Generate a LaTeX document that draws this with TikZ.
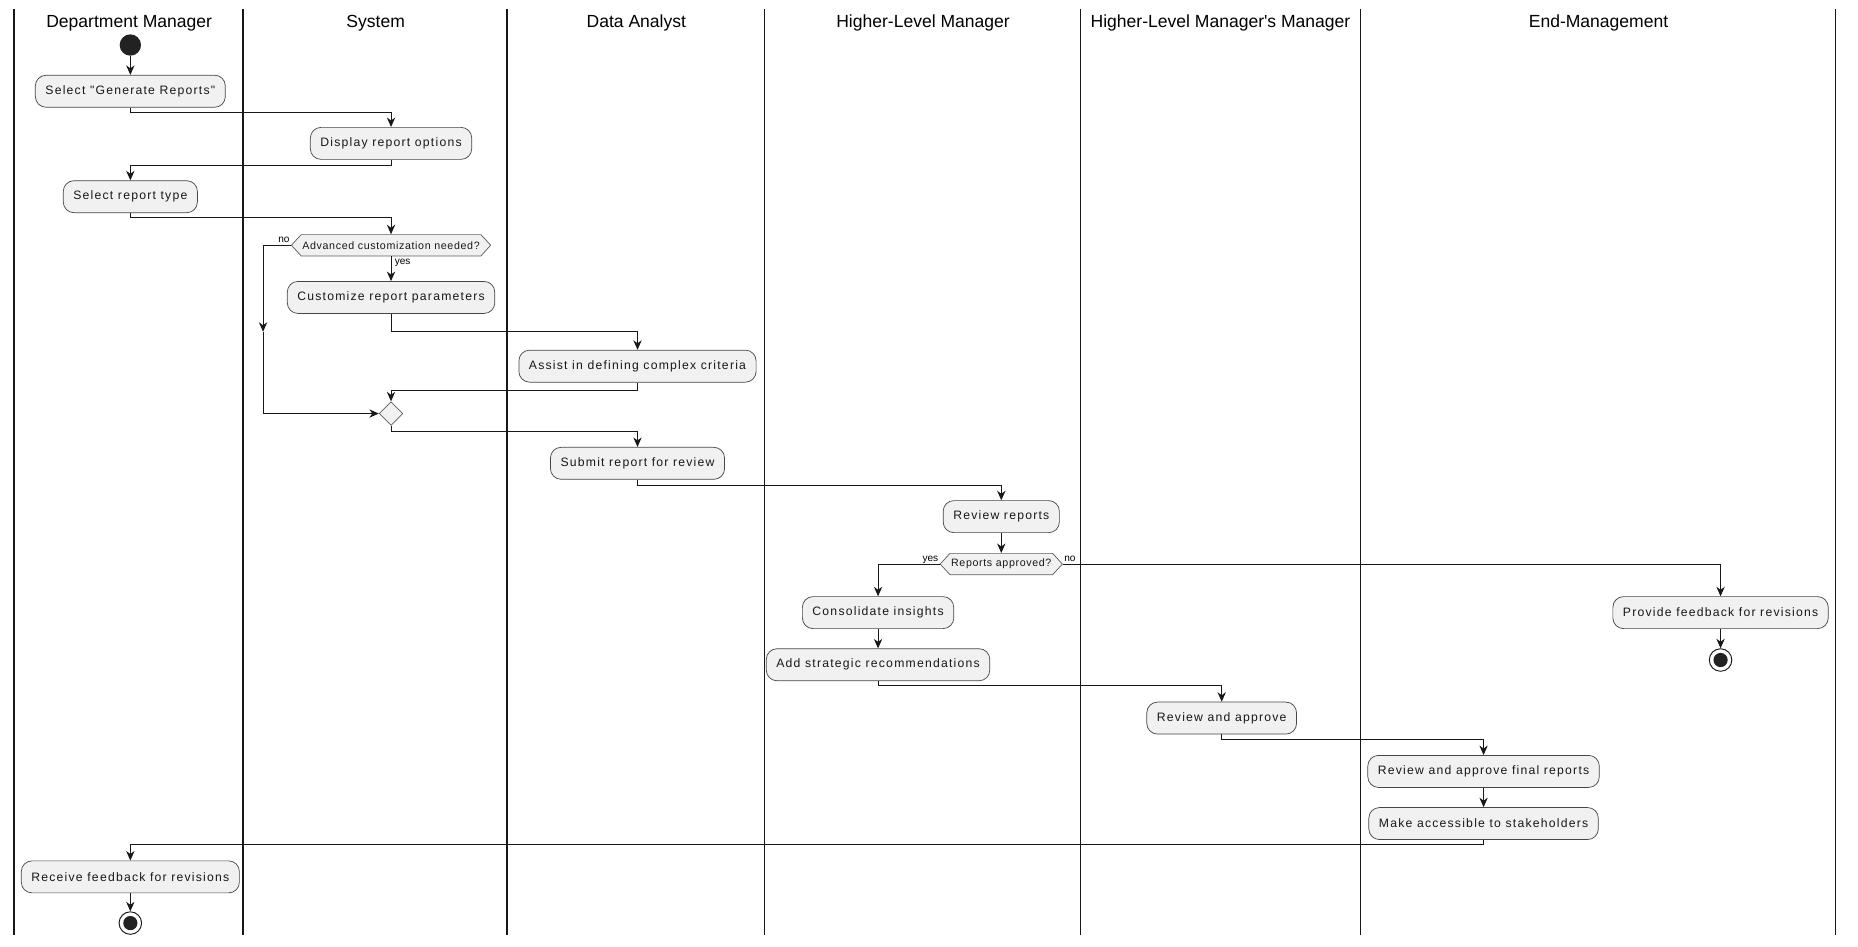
\documentclass[tikz,border=0pt]{standalone}
\usepackage{fontspec}
\setmainfont{Liberation Sans}
\newfontfamily\headfont[Ligatures=TeXOff]{Liberation Sans}
\newfontfamily\actfont[LetterSpace=10]{Liberation Sans}
\newfontfamily\decfont[LetterSpace=6]{Liberation Sans}
\usetikzlibrary{arrows.meta,shapes.geometric,shapes.symbols}
\definecolor{boxfill}{HTML}{F1F1F1}
\definecolor{ink}{HTML}{181818}
\definecolor{dot}{HTML}{222222}
\tikzset{
 act/.style={draw=ink!80, line width=0.6pt, fill=boxfill, rounded corners=9pt, minimum height=27pt, inner xsep=8.5pt, inner ysep=0pt, font=\actfont\fontsize{10.3}{12}\selectfont, text=ink},
 dec/.style={signal, signal to=east and west, signal pointer angle=95, draw=ink!70, fill=boxfill, line width=0.6pt, minimum height=18pt, inner xsep=1pt, inner ysep=0pt, font=\decfont\fontsize{9}{11}\selectfont, text=ink},
 mergenode/.style={diamond, draw=ink!70, fill=boxfill, line width=0.6pt, minimum size=20pt, inner sep=0pt},
 startnode/.style={circle, fill=dot, minimum size=18pt, inner sep=0pt},
 endnode/.style={circle, draw=ink, fill=white, line width=0.8pt, minimum size=19pt, inner sep=0pt, path picture={\fill[dot] (path picture bounding box.center) circle (6pt);}},
 lane/.style={line width=1.3pt, draw=ink},
 head/.style={font=\headfont\fontsize{14.8}{17}\selectfont, text=black, inner sep=0pt},
 arr/.style={draw=ink, line width=0.8pt, -{Stealth[length=8pt,width=7pt,inset=2.5pt]}},
 lbl/.style={font=\fontsize{8.5}{10}\selectfont, inner sep=0pt, text=black},
}
\begin{document}
\begin{tikzpicture}[x=1pt,y=-1pt]
\useasboundingbox (0,0) rectangle (1568,799);
% swimlane borders
\foreach \xx/\nm in {12/l0,205/l1,428/l2,645/l3,912/l4,1148/l5,1549/l6}{
  \coordinate (\nm top) at (\xx,8);
  \coordinate (\nm bot) at (\xx,789);
  \draw[lane] (\nm top) -- (\nm bot);
}
% headers
\node[head, anchor=base] (h1) at (109,23) {Department Manager};
\node[head, anchor=base] (h2) at (317,23) {System};
\node[head, anchor=base] (h3) at (537,23) {Data Analyst};
\node[head, anchor=base] (h4) at (779,23) {Higher-Level Manager};
\node[head, anchor=base] (h5) at (1030,23) {Higher-Level Manager's Manager};
\node[head, anchor=base] (h6) at (1349,23) {End-Management};
% nodes
\node[startnode] (start) at (110,38) {};
\node[act] (sel) at (110,77) {Select "Generate Reports"};
\node[act] (disp) at (330,121) {Display report options};
\node[act] (seltype) at (110,166) {Select report type};
\node[dec] (dec1) at (330,207) {Advanced customization needed?};
\node[act] (cust) at (330,251) {Customize report parameters};
\node[act] (assist) at (538,309) {Assist in defining complex criteria};
\node[mergenode] (merge) at (330,349) {};
\node[act] (submit) at (538,391) {Submit report for review};
\node[act] (review) at (845,436) {Review reports};
\node[dec] (dec2) at (845,476) {Reports approved?};
\node[act] (consol) at (741,517) {Consolidate insights};
\node[act] (strat) at (741,561) {Add strategic recommendations};
\node[act] (rapp) at (1031,606) {Review and approve};
\node[act] (final) at (1252,651) {Review and approve final reports};
\node[act] (make) at (1252,695) {Make accessible to stakeholders};
\node[act] (receive) at (110,740) {Receive feedback for revisions};
\node[endnode] (end1) at (110,779) {};
\node[act] (provide) at (1452,517) {Provide feedback for revisions};
\node[endnode] (end2) at (1452,557) {};
% helper coordinates for the "no" branch
\coordinate (nocorner) at (222,207);
\coordinate (nomid) at (222,280);
% connectors
\draw[arr] (start) -- (sel);
\draw[arr] (sel.south) -- ++(0,4) -| (disp.north);
\draw[arr] (disp.south) -- ++(0,5) -| (seltype.north);
\draw[arr] (seltype.south) -- ++(0,4) -| (dec1.north);
\draw[arr] (dec1.south) -- (cust.north);
\draw[arr] (dec1.west) -- (nocorner) -- (nomid);
\draw[arr] (nomid) |- (merge.west);
\draw[arr] (cust.south) -- ++(0,15) -| (assist.north);
\draw[arr] (assist.south) -- ++(0,7) -| (merge.north);
\draw[arr] (merge.south) -- ++(0,5) -| (submit.north);
\draw[arr] (submit.south) -- ++(0,5) -| (review.north);
\draw[arr] (review.south) -- (dec2.north);
\draw[arr] (dec2.west) -| (consol.north);
\draw[arr] (dec2.east) -| (provide.north);
\draw[arr] (consol.south) -- (strat.north);
\draw[arr] (strat.south) -- ++(0,4) -| (rapp.north);
\draw[arr] (rapp.south) -- ++(0,4) -| (final.north);
\draw[arr] (final.south) -- (make.north);
\draw[arr] (make.south) -- ++(0,4) -| (receive.north);
\draw[arr] (receive.south) -- (end1);
\draw[arr] (provide.south) -- (end2);
% labels
\node[lbl, anchor=base east] (lno1) at ([xshift=-1pt,yshift=2pt]dec1.west) {no};
\node[lbl, anchor=north west] (lyes1) at ([xshift=3pt,yshift=-2pt]dec1.south) {yes};
\node[lbl, anchor=base east] (lyes2) at ([xshift=-1pt,yshift=2pt]dec2.west) {yes};
\node[lbl, anchor=base west] (lno2) at ([xshift=1pt,yshift=2pt]dec2.east) {no};
\end{tikzpicture}
\end{document}
